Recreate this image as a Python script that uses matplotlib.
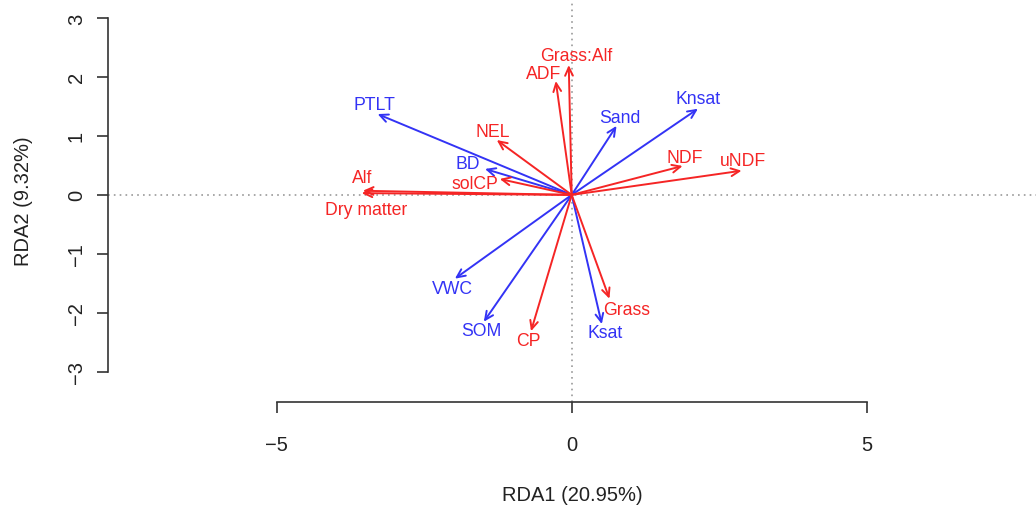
import matplotlib.pyplot as plt
import numpy as np

plt.rcParams['font.family'] = ['Liberation Sans', 'DejaVu Sans']

# environmental vectors (blue)
env_names = ['PTLT', 'BD', 'Sand', 'Knsat', 'VWC', 'SOM', 'Ksat']
env_x = [-3.29, -1.47, 0.76, 2.14, -1.98, -1.49, 0.51]
env_y = [1.37, 0.44, 1.17, 1.46, -1.42, -2.15, -2.19]
env_lab_x = [-3.34, -1.76, 0.81, 2.14, -2.03, -1.53, 0.56]
env_lab_y = [1.54, 0.53, 1.32, 1.63, -1.59, -2.30, -2.34]

# forage vectors (red)
frg_names = ['Grass:Alf', 'ADF', 'NEL', 'solCP', 'Alf', 'Dry matter',
             'NDF', 'uNDF', 'CP', 'Grass']
frg_x = [-0.05, -0.27, -1.27, -1.22, -3.54, -3.56, 1.88, 2.88, -0.69, 0.64]
frg_y = [2.20, 1.93, 0.93, 0.27, 0.07, 0.03, 0.49, 0.41, -2.31, -1.76]
frg_lab_x = [0.08, -0.47, -1.34, -1.64, -3.56, -3.49, 1.92, 2.90, -0.73, 0.93]
frg_lab_y = [2.36, 2.05, 1.08, 0.20, 0.30, -0.24, 0.64, 0.58, -2.46, -1.95]

blue = '#3333f5'
red = '#f52525'

fig = plt.figure(figsize=(10.36, 5.06), dpi=100)
ax = fig.add_axes([108 / 1036, 103 / 506, 928 / 1036, 403 / 506])
ax.set_xlim(-7.86, 7.87)
ax.set_ylim(-3.51, 3.32)

ax.axhline(0, color='#999999', lw=1.2, ls=(0, (1, 2.5)), zorder=1)
ax.axvline(0, color='#999999', lw=1.2, ls=(0, (1, 2.5)), zorder=1)


def draw(xs, ys, lx, ly, names, col):
    for x, y, tx, ty, n in zip(xs, ys, lx, ly, names):
        ax.annotate('', xy=(x, y), xytext=(0, 0),
                    arrowprops=dict(arrowstyle='->,head_length=0.6,head_width=0.28',
                                    color=col, lw=1.4, shrinkA=0, shrinkB=0))
        ax.text(tx, ty, n, color=col, fontsize=12.7, ha='center', va='center')


draw(env_x, env_y, env_lab_x, env_lab_y, env_names, blue)
draw(frg_x, frg_y, frg_lab_x, frg_lab_y, frg_names, red)

for s in ['top', 'right']:
    ax.spines[s].set_visible(False)
ax.spines['left'].set_bounds(-3, 3)
ax.spines['bottom'].set_bounds(-5, 5)
for s in ['left', 'bottom']:
    ax.spines[s].set_color('#333333')
    ax.spines[s].set_linewidth(1.2)

ax.set_xticks([-5, 0, 5])
ax.set_xticklabels(['\u22125', '0', '5'])
ax.set_yticks([-3, -2, -1, 0, 1, 2, 3])
ax.set_yticklabels(['\u22123', '\u22122', '\u22121', '0', '1', '2', '3'],
                   rotation=90, va='center')
ax.tick_params(axis='both', length=8, width=1.2, color='#333333',
               labelsize=14.5, labelcolor='#222222')
ax.tick_params(axis='x', pad=16)
ax.tick_params(axis='y', pad=8)

ax.set_xlabel('RDA1 (20.95%)', fontsize=14.5, color='#222222', labelpad=22)
ax.set_ylabel('RDA2 (9.32%)', fontsize=14.5, color='#222222', labelpad=24)

fig.savefig('out.png', dpi=100)
